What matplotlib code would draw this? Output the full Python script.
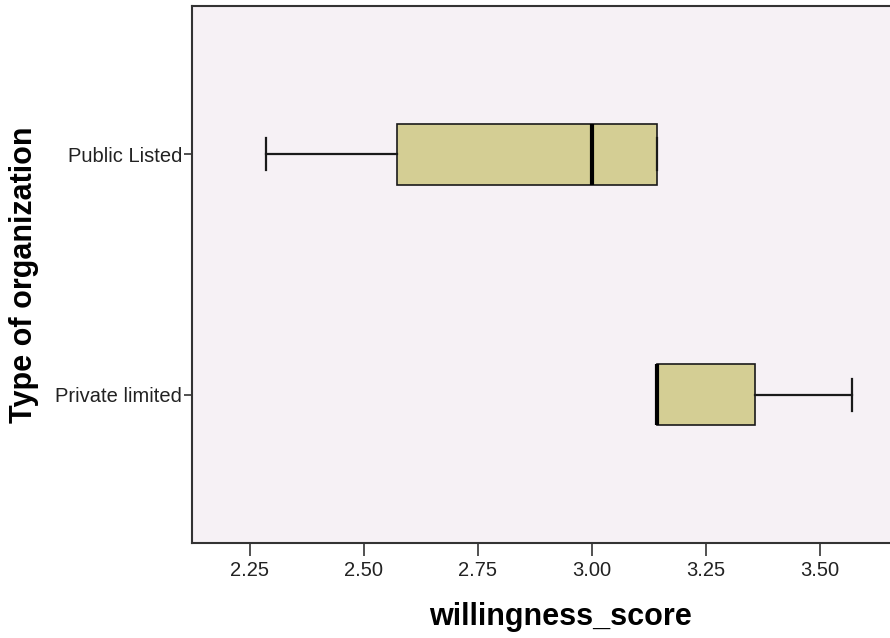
import numpy as np
import matplotlib
matplotlib.use('Agg')
import matplotlib.pyplot as plt

# ==========================================
# Data
# ==========================================
categories = ['Public Listed', 'Private limited']
whis_low = [2.2857, 3.1429]
q1 = [2.5714, 3.1429]
median = [3.0000, 3.1429]
q3 = [3.1429, 3.3571]
whis_high = [3.1429, 3.5714]
x_ticks = [2.25, 2.50, 2.75, 3.00, 3.25, 3.50]

plt.rcParams['font.family'] = ['Liberation Sans', 'DejaVu Sans']

fig = plt.figure(figsize=(8.9, 6.38), dpi=100)
# right edge of the plot frame sits just outside the picture, like the original
ax = fig.add_axes([192 / 890, 1 - 543 / 638, 736 / 890, 537 / 638])
ax.set_facecolor('#F6F1F5')

stats = []
for i, name in enumerate(categories):
    stats.append({'label': name, 'whislo': whis_low[i], 'q1': q1[i], 'med': median[i],
                  'q3': q3[i], 'whishi': whis_high[i], 'fliers': []})

positions = np.arange(1, len(categories) + 1)
ax.bxp(stats, positions=positions, widths=0.254, capwidths=0.133, vert=False,
       patch_artist=True, showfliers=False,
       boxprops=dict(facecolor='#D4CE94', edgecolor='#1a1a1a', linewidth=1.2),
       medianprops=dict(color='black', linewidth=3.0, solid_capstyle='butt'),
       whiskerprops=dict(color='#1a1a1a', linewidth=1.6),
       capprops=dict(color='#1a1a1a', linewidth=1.6))

ax.set_xlim(2.1228, 3.737)
ax.set_ylim(2.617, 0.383)

ax.set_xticks(x_ticks)
ax.set_xticklabels([f'{t:.2f}' for t in x_ticks])
ax.set_yticks(positions)
ax.set_yticklabels(categories)
ax.tick_params(axis='x', length=9, width=1.2, color='#333333', labelsize=14.5,
               labelcolor='#222222', pad=4)
ax.tick_params(axis='y', length=6, width=1.2, color='#333333', labelsize=14.5,
               labelcolor='#222222', pad=1)

for side in ['left', 'bottom', 'top', 'right']:
    ax.spines[side].set_color('#333333')
    ax.spines[side].set_linewidth(1.5)

ax.set_xlabel('willingness_score', fontsize=22, fontweight='bold', va='center')
ax.xaxis.set_label_coords(0.5, (543 - 617) / 537)
ax.set_ylabel('Type of organization', fontsize=22, fontweight='bold', va='center')
ax.yaxis.set_label_coords((24 - 192) / 736, 0.5)

fig.savefig('out.png', dpi=100, facecolor='white')
